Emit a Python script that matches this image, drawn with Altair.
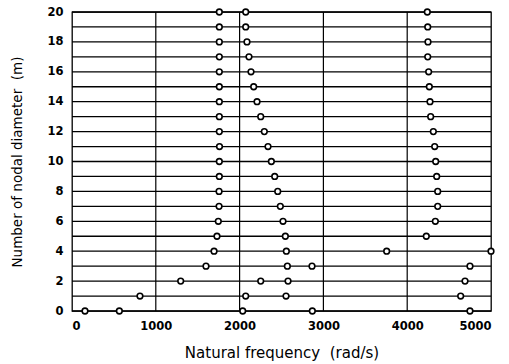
import altair as alt
import pandas as pd

# nodal diameter m and natural frequency (rad/s)
m_vals = [20, 20, 20,
          19, 19, 19,
          18, 18, 18,
          17, 17, 17,
          16, 16, 16,
          15, 15, 15,
          14, 14, 14,
          13, 13, 13,
          12, 12, 12,
          11, 11, 11,
          10, 10, 10,
          9, 9, 9,
          8, 8, 8,
          7, 7, 7,
          6, 6, 6,
          5, 5, 5,
          4, 4, 4, 4,
          3, 3, 3, 3,
          2, 2, 2, 2,
          1, 1, 1, 1,
          0, 0, 0, 0, 0]
freq_vals = [1758, 2073, 4240,
             1758, 2073, 4245,
             1758, 2088, 4248,
             1758, 2112, 4245,
             1758, 2136, 4256,
             1758, 2168, 4264,
             1758, 2208, 4272,
             1758, 2252, 4280,
             1758, 2295, 4312,
             1760, 2339, 4328,
             1758, 2379, 4340,
             1758, 2419, 4352,
             1755, 2455, 4364,
             1755, 2486, 4364,
             1746, 2518, 4336,
             1730, 2546, 4228,
             1695, 2558, 3755, 5000,
             1599, 2570, 2864, 4749,
             1297, 2252, 2578, 4690,
             811, 2073, 2554, 4638,
             155, 565, 2037, 2868, 4749]

h_lines = list(range(0, 21))
v_lines = [1000, 2000, 3000, 4000]
x_ticks = [0, 1000, 2000, 3000, 4000, 5000]
y_ticks = [0, 2, 4, 6, 8, 10, 12, 14, 16, 18, 20]

pts = pd.DataFrame({"m": m_vals, "f": freq_vals})
hdf = pd.DataFrame({"m": h_lines})
vdf = pd.DataFrame({"f": v_lines})

LFONT = "DejaVu Sans"
NB = "\u00a0"
xscale = alt.Scale(domain=[0, 5000], nice=False)
yscale = alt.Scale(domain=[0, 20], nice=False)

xaxis = alt.Axis(values=x_ticks, grid=False, ticks=False, domain=False,
                 format="d",
                 labelFont=LFONT, labelFontSize=11.5, labelFontWeight="bold",
                 labelColor="black", labelPadding=9,
                 title=f"Natural frequency{NB}{NB}(rad/s)", titleFont=LFONT,
                 titleFontSize=15, titleFontWeight="normal", titleColor="black",
                 titlePadding=14)
yaxis = alt.Axis(values=y_ticks, grid=False, ticks=False, domain=False,
                 format="d",
                 labelFont=LFONT, labelFontSize=11.5, labelFontWeight="bold",
                 labelColor="black", labelPadding=9,
                 title=f"Number of nodal diameter{NB}{NB}(m)", titleFont=LFONT,
                 titleFontSize=13.5, titleFontWeight="normal", titleColor="black",
                 titlePadding=22)

hrules = alt.Chart(hdf).mark_rule(color="black", strokeWidth=1.3).encode(
    y=alt.Y("m:Q", scale=yscale, axis=yaxis),
)
vrules = alt.Chart(vdf).mark_rule(color="black", strokeWidth=1.2).encode(
    x=alt.X("f:Q", scale=xscale, axis=xaxis),
)
points = alt.Chart(pts).mark_point(
    shape="circle", filled=True, fill="white", stroke="black",
    strokeWidth=1.6, size=32, opacity=1
).encode(
    x=alt.X("f:Q", scale=xscale, axis=xaxis),
    y=alt.Y("m:Q", scale=yscale, axis=yaxis),
)

chart = alt.layer(hrules, vrules, points).properties(
    width=419, height=299,
    autosize=alt.AutoSizeParams(type="none"),
    padding={"left": 72, "top": 12, "right": 18, "bottom": 53},
    background="white",
).configure_view(stroke="black", strokeWidth=1.3)

chart.save("out.html", embed_options={"renderer": "svg", "actions": False})
